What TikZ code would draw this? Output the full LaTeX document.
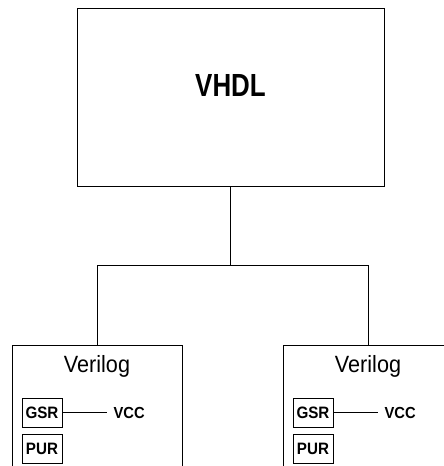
\documentclass[tikz,border=0pt]{standalone}
\usepackage{fontspec}
\setmainfont{Liberation Sans}
\newfontfamily\narrowfont[FakeStretch=0.81]{Liberation Sans}
\newfontfamily\condfont[FakeStretch=0.92]{Liberation Sans}
\usetikzlibrary{positioning}

\begin{document}
\begin{tikzpicture}[x=1pt, y=1pt,
    frame/.style={draw, rectangle, line width=0.8pt, inner sep=0pt},
    title/.style={inner sep=0pt, font=\condfont\fontsize{23.5}{23.5}\selectfont},
    pinbox/.style={draw, rectangle, line width=0.8pt, minimum width=40pt, minimum height=29pt, inner sep=0pt, font=\condfont\bfseries\fontsize{16.5}{16.5}\selectfont},
    netname/.style={inner sep=6pt, font=\condfont\bfseries\fontsize{16}{16}\selectfont},
    wire/.style={line width=0.8pt}
]
\clip (0,0) rectangle (444,466);

\node[frame, minimum width=307pt, minimum height=178pt,
      label={[font=\narrowfont\bfseries\fontsize{32}{32}\selectfont, yshift=12pt]center:VHDL}] (vhdl) at (230.5,369) {};

\node[frame, anchor=north, minimum width=170pt, minimum height=160pt] (vlogA) at (97,121) {};
\node[frame, anchor=north, minimum width=170pt, minimum height=160pt] (vlogB) at (368,121) {};
\node[title, below=10pt of vlogA.north] (titleA) {Verilog};
\node[title, below=10pt of vlogB.north] (titleB) {Verilog};

\node[pinbox] (gsrA) at (42,53.5) {GSR};
\node[pinbox, below=7pt of gsrA] (purA) {PUR};
\node[netname, right=45pt of gsrA] (vccA) {VCC};

\node[pinbox] (gsrB) at (313,53.5) {GSR};
\node[pinbox, below=7pt of gsrB] (purB) {PUR};
\node[netname, right=45pt of gsrB] (vccB) {VCC};

\coordinate (split) at ([yshift=-79pt]vhdl.south);

\draw[wire] (vhdl.south) -- (split);
\draw[wire] (vlogA.north) |- (split) -| (vlogB.north);
\draw[wire] (gsrA) -- (vccA);
\draw[wire] (gsrB) -- (vccB);

\end{tikzpicture}
\end{document}
